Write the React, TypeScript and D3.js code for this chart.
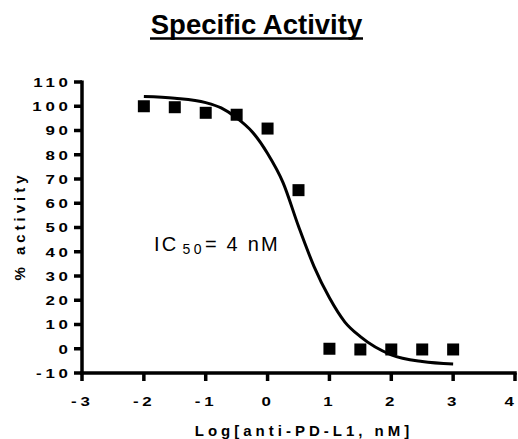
import React from 'react';
import * as d3 from 'd3';

// measured points, log10 of concentration (nM) vs % activity
const logConc = [-2, -1.5, -1, -0.5, 0, 0.5, 1, 1.5, 2, 2.5, 3];
const activity = [100, 99.6, 97.3, 96.5, 90.8, 65.4, 0, -0.3, -0.3, -0.3, -0.3];

// fitted curve
const fitX = [-2, -1.5, -1, -0.75, -0.5, -0.25, 0, 0.25, 0.5, 0.75, 1, 1.25, 1.5, 2, 2.5, 3];
const fitY = [104, 103.3, 101.5, 99.3, 95.2, 89.5, 80.5, 68.5, 50.5, 34, 21, 11, 5, -2.5, -5.3, -6.3];

const xTicks = [-3, -2, -1, 0, 1, 2, 3, 4];
const yTicks = [-10, 0, 10, 20, 30, 40, 50, 60, 70, 80, 90, 100, 110];

const W = 518;
const H = 439;
const font = '"Liberation Sans", Arial, sans-serif';

export default function App() {
  const x = d3.scaleLinear().domain([-3, 4]).range([82, 515]);
  const y = d3.scaleLinear().domain([-10, 110]).range([373, 82]);

  const curve = d3.line<number>()
    .x((d, i) => x(fitX[i]))
    .y(d => y(d))
    .curve(d3.curveMonotoneX);

  const sq = 12;
  const sp = 3;      // letter spacing of tick labels
  const stretch = 1.25;

  return (
    <svg width={W} height={H} style={{ position: 'absolute', left: 0, top: 0, background: '#fff' }}
      fontFamily={font}>
      {/* title */}
      <text x={256.5} y={34} textAnchor="middle" fontSize={27.5} fontWeight="bold" fill="#000">
        Specific Activity
      </text>
      <line x1={150} x2={363} y1={38.5} y2={38.5} stroke="#000" strokeWidth={2.6} />

      {/* y axis */}
      <line x1={x(-3)} x2={x(-3)} y1={y(110) - 1.5} y2={y(-10) + 1.5} stroke="#000" strokeWidth={3.5} />
      {yTicks.map(t => (
        <g key={'y' + t}>
          <line x1={x(-3) - 8} x2={x(-3)} y1={y(t)} y2={y(t)} stroke="#000" strokeWidth={3.5} />
          <text transform={`translate(${68 + sp * stretch},${y(t)}) scale(${stretch},1)`} dy="0.36em"
            textAnchor="end" fontSize={13.5} fontWeight="bold" letterSpacing={sp}>{t}</text>
        </g>
      ))}

      {/* x axis */}
      <line x1={x(-3) - 1.75} x2={x(4) + 1.75} y1={y(-10)} y2={y(-10)} stroke="#000" strokeWidth={3.5} />
      {xTicks.map(t => (
        <g key={'x' + t}>
          <line x1={x(t)} x2={x(t)} y1={y(-10)} y2={y(-10) + 8} stroke="#000" strokeWidth={3.5} />
          <text transform={`translate(${Math.min(x(t) + (sp * stretch) / 2 - 1.5, 511)},406) scale(${stretch},1)`}
            textAnchor="middle" fontSize={13.5} fontWeight="bold" letterSpacing={sp}>{t}</text>
        </g>
      ))}

      {/* axis titles */}
      <text x={304} y={436} textAnchor="middle" fontSize={15} fontWeight="bold" letterSpacing={4}>
        Log[anti-PD-L1, nM]
      </text>
      <text transform="translate(25,226) rotate(-90)" textAnchor="middle" fontSize={15}
        fontWeight="bold" letterSpacing={4}>% activity</text>

      {/* fit */}
      <path d={curve(fitY) || ''} fill="none" stroke="#000" strokeWidth={3} />

      {/* points */}
      {logConc.map((c, i) => (
        <rect key={'p' + i} x={x(c) - sq / 2} y={y(activity[i]) - sq / 2} width={sq} height={sq} fill="#000" />
      ))}

      {/* annotation */}
      <text x={154} y={251} fontSize={20} letterSpacing={2.2} fill="#000">
        IC<tspan fontSize={14} dx={4} dy={3} letterSpacing={3.5}>50</tspan>
        <tspan fontSize={20} dy={-3} letterSpacing={2.2}>= 4 nM</tspan>
      </text>
    </svg>
  );
}
